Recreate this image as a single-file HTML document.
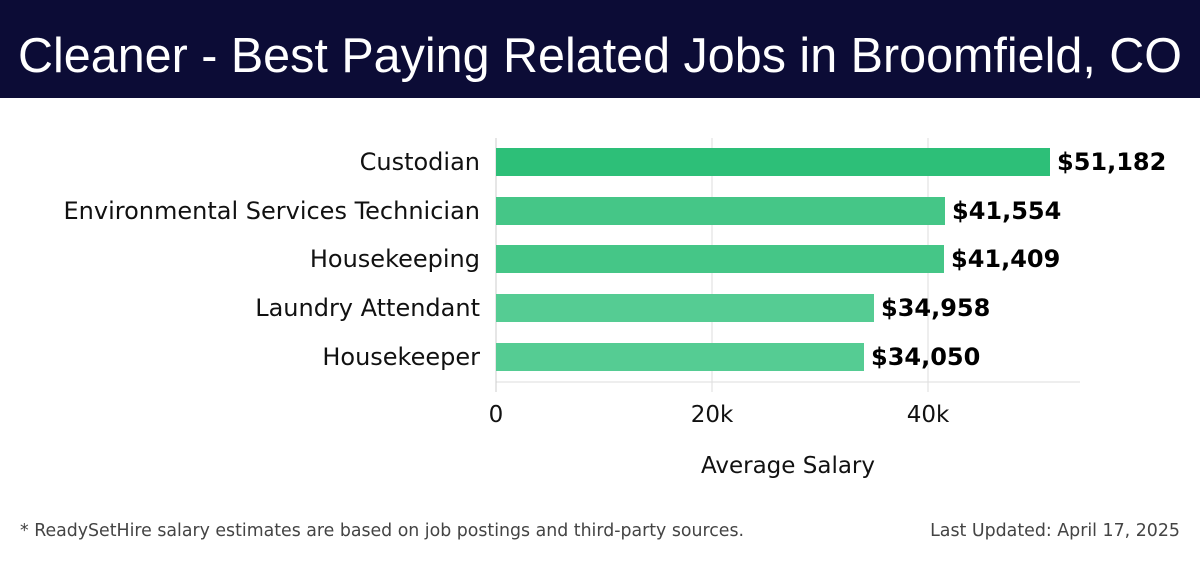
<!DOCTYPE html>
<html><head><meta charset="utf-8"><style>
body{margin:0;width:1200px;height:558px;background:#fff;overflow:hidden;font-family:"Liberation Sans","DejaVu Sans",sans-serif}
</style></head><body>
<svg width="1200" height="558" xmlns="http://www.w3.org/2000/svg" font-family="'DejaVu Sans','Liberation Sans',sans-serif">
<rect x="0" y="0" width="1200" height="98" fill="#0c0c36"/>
<text x="600" y="72" text-anchor="middle" fill="#fff" font-size="49" font-family="'Liberation Sans',sans-serif" textLength="1164" lengthAdjust="spacingAndGlyphs">Cleaner - Best Paying Related Jobs in Broomfield, CO</text>
<g stroke="#ddd" stroke-width="1">
<line x1="712" y1="138" x2="712" y2="392"/>
<line x1="928" y1="138" x2="928" y2="392"/>
<line x1="496" y1="382" x2="1080" y2="382"/>
</g>
<line x1="496" y1="138" x2="496" y2="392" stroke="#ccc"/>
<rect x="496" y="148" width="554" height="28" fill="#2dbf78"/>
<rect x="496" y="197" width="449" height="28" fill="#45c687"/>
<rect x="496" y="245" width="448" height="28" fill="#45c687"/>
<rect x="496" y="294" width="378" height="28" fill="#55cc93"/>
<rect x="496" y="343" width="368" height="28" fill="#55cc93"/>
<g font-size="24" fill="#111" text-anchor="end">
<text x="480" y="170">Custodian</text>
<text x="480" y="219">Environmental Services Technician</text>
<text x="480" y="267">Housekeeping</text>
<text x="480" y="316">Laundry Attendant</text>
<text x="480" y="365">Housekeeper</text>
</g>
<g font-size="24" font-weight="bold" fill="#000">
<text x="1057" y="170">$51,182</text>
<text x="952" y="219">$41,554</text>
<text x="951" y="267">$41,409</text>
<text x="881" y="316">$34,958</text>
<text x="871" y="365">$34,050</text>
</g>
<g font-size="23" fill="#111" text-anchor="middle">
<text x="496" y="422">0</text>
<text x="712" y="422">20k</text>
<text x="928" y="422">40k</text>
<text x="788" y="473">Average Salary</text>
</g>
<text x="20" y="536" font-size="17.4" fill="#444" textLength="724" lengthAdjust="spacingAndGlyphs">* ReadySetHire salary estimates are based on job postings and third-party sources.</text>
<text x="1180" y="536" font-size="17.4" fill="#444" text-anchor="end">Last Updated: April 17, 2025</text>
</svg>
</body></html>
